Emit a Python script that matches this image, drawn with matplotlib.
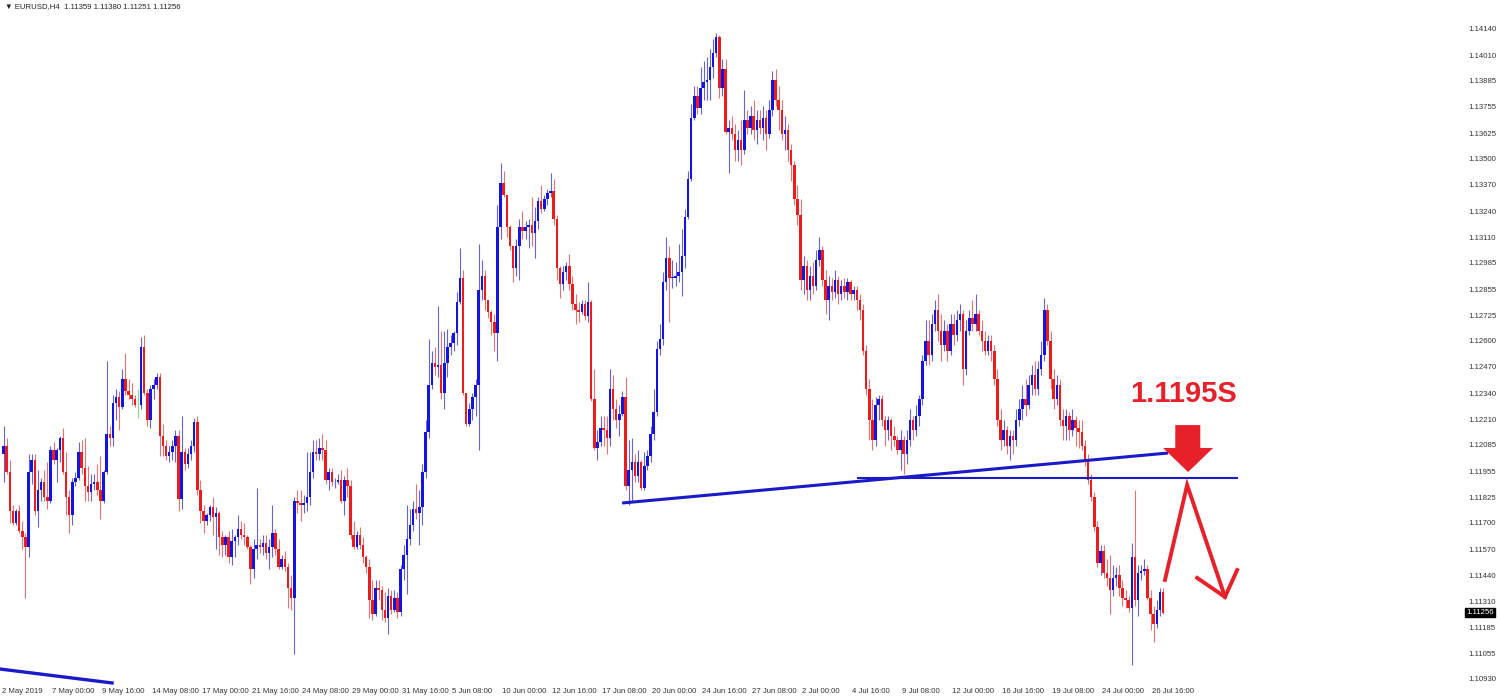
#!usr/bin/env python3

import matplotlib as mpl
mpl.use("Agg")
import matplotlib.pyplot as plt
import matplotlib.transforms as mtransforms
from matplotlib.patches import Polygon

# EURUSD H4 candles (open of each bar = previous close)
first_open = 1.1204

closes = [
    1.1208, 1.1195, 1.1176, 1.1170, 1.1176, 1.1166, 1.1163, 1.1158, 1.1195, 1.1201,
    1.1176, 1.1186, 1.1190, 1.1183, 1.1181, 1.1206, 1.1201, 1.1206, 1.1212, 1.1195,
    1.1183, 1.1174, 1.1190, 1.1192, 1.1205, 1.1197, 1.1188, 1.1185, 1.1189, 1.1190,
    1.1186, 1.1181, 1.1195, 1.1214, 1.1212, 1.1229, 1.1232, 1.1227, 1.1241, 1.1235,
    1.1233, 1.1231, 1.1228, 1.1228, 1.1257, 1.1234, 1.1221, 1.1236, 1.1238, 1.1242,
    1.1213, 1.1208, 1.1203, 1.1205, 1.1208, 1.1213, 1.1182, 1.1205, 1.1199, 1.1204,
    1.1208, 1.1220, 1.1186, 1.1176, 1.1171, 1.1174, 1.1178, 1.1173, 1.1175, 1.1163,
    1.1159, 1.1163, 1.1153, 1.1161, 1.1163, 1.1167, 1.1164, 1.1163, 1.1158, 1.1147,
    1.1157, 1.1159, 1.1158, 1.1160, 1.1155, 1.1158, 1.1165, 1.1157, 1.1148, 1.1152,
    1.1148, 1.1138, 1.1133, 1.1181, 1.1180, 1.1179, 1.1180, 1.1183, 1.1195, 1.1205,
    1.1204, 1.1207, 1.1206, 1.1191, 1.1195, 1.1190, 1.1190, 1.1191, 1.1181, 1.1191,
    1.1188, 1.1164, 1.1158, 1.1164, 1.1159, 1.1153, 1.1148, 1.1132, 1.1125, 1.1138,
    1.1137, 1.1127, 1.1123, 1.1134, 1.1127, 1.1133, 1.1126, 1.1147, 1.1154, 1.1162,
    1.1169, 1.1177, 1.1175, 1.1178, 1.1195, 1.1215, 1.1238, 1.1249, 1.1247, 1.1248,
    1.1234, 1.1249, 1.1257, 1.1259, 1.1264, 1.1279, 1.1291, 1.1234, 1.1219, 1.1226,
    1.1232, 1.1238, 1.1285, 1.1292, 1.1280, 1.1274, 1.1269, 1.1264, 1.1316, 1.1338,
    1.1332, 1.1316, 1.1307, 1.1296, 1.1307, 1.1316, 1.1314, 1.1316, 1.1317, 1.1313,
    1.1319, 1.1329, 1.1325, 1.1330, 1.1333, 1.1334, 1.1320, 1.1296, 1.1288, 1.1294,
    1.1297, 1.1288, 1.1278, 1.1275, 1.1274, 1.1278, 1.1272, 1.1279, 1.1231, 1.1207,
    1.1210, 1.1217, 1.1216, 1.1212, 1.1236, 1.1226, 1.1221, 1.1224, 1.1232, 1.1188,
    1.1196, 1.1200, 1.1193, 1.1200, 1.1187, 1.1198, 1.1203, 1.1214, 1.1225, 1.1256,
    1.1261, 1.1289, 1.1301, 1.1291, 1.1291, 1.1292, 1.1294, 1.1302, 1.1321, 1.1340,
    1.1370, 1.1381, 1.1375, 1.1385, 1.1388, 1.1389, 1.1395, 1.1402, 1.1410, 1.1385,
    1.1394, 1.1363, 1.1365, 1.1362, 1.1354, 1.1359, 1.1354, 1.1369, 1.1365, 1.1371,
    1.1364, 1.1369, 1.1365, 1.1370, 1.1362, 1.1374, 1.1389, 1.1379, 1.1374, 1.1362,
    1.1364, 1.1354, 1.1347, 1.1330, 1.1322, 1.1290, 1.1297, 1.1285, 1.1292, 1.1287,
    1.1300, 1.1305, 1.1290, 1.1280, 1.1287, 1.1284, 1.1290, 1.1283, 1.1287, 1.1284,
    1.1289, 1.1283, 1.1285, 1.1280, 1.1275, 1.1255, 1.1236, 1.1221, 1.1211, 1.1228,
    1.1231, 1.1221, 1.1216, 1.1221, 1.1213, 1.1211, 1.1206, 1.1211, 1.1204, 1.1211,
    1.1221, 1.1216, 1.1223, 1.1231, 1.1250, 1.1260, 1.1253, 1.1268, 1.1275, 1.1265,
    1.1258, 1.1265, 1.1255, 1.1268, 1.1263, 1.1270, 1.1273, 1.1246, 1.1265, 1.1271,
    1.1268, 1.1273, 1.1265, 1.1260, 1.1255, 1.1260, 1.1255, 1.1241, 1.1221, 1.1211,
    1.1216, 1.1208, 1.1213, 1.1211, 1.1221, 1.1226, 1.1231, 1.1228, 1.1238, 1.1243,
    1.1236, 1.1246, 1.1253, 1.1275, 1.1260, 1.1241, 1.1231, 1.1238, 1.1221, 1.1218,
    1.1223, 1.1216, 1.1221, 1.1217, 1.1215, 1.1208, 1.1200, 1.1191, 1.1183, 1.1168,
    1.1150, 1.1156, 1.1145, 1.1143, 1.1137, 1.1143, 1.1144, 1.1138, 1.1133, 1.1132,
    1.1128, 1.1153, 1.1132, 1.1145, 1.1146, 1.1147, 1.1133, 1.1125, 1.1120, 1.1127,
    1.11359, 1.11256,
]

highs = [
    1.1218, 1.1212, 1.1201, 1.1179, 1.1177, 1.1179, 1.1171, 1.1165, 1.1204, 1.1204,
    1.1204, 1.1196, 1.1192, 1.1196, 1.1200, 1.1208, 1.1210, 1.1207, 1.1213, 1.1217,
    1.1205, 1.1186, 1.1192, 1.1195, 1.1210, 1.1211, 1.1212, 1.1198, 1.1194, 1.1194,
    1.1199, 1.1203, 1.1196, 1.1250, 1.1218, 1.1233, 1.1236, 1.1235, 1.1246, 1.1254,
    1.1241, 1.1239, 1.1233, 1.1236, 1.1262, 1.1263, 1.1236, 1.1238, 1.1241, 1.1244,
    1.1244, 1.1219, 1.1211, 1.1208, 1.1211, 1.1216, 1.1216, 1.1223, 1.1207, 1.1207,
    1.1211, 1.1222, 1.1223, 1.1191, 1.1179, 1.1175, 1.1179, 1.1183, 1.1178, 1.1176,
    1.1166, 1.1164, 1.1166, 1.1167, 1.1164, 1.1174, 1.1171, 1.1170, 1.1164, 1.1159,
    1.1162, 1.1187, 1.1162, 1.1164, 1.1164, 1.1162, 1.1179, 1.1167, 1.1162, 1.1154,
    1.1156, 1.1150, 1.1144, 1.1183, 1.1186, 1.1186, 1.1184, 1.1205, 1.1205, 1.1211,
    1.1211, 1.1212, 1.1214, 1.1211, 1.1197, 1.1197, 1.1192, 1.1194, 1.1196, 1.1193,
    1.1197, 1.1191, 1.1171, 1.1166, 1.1168, 1.1163, 1.1154, 1.1152, 1.1142, 1.1142,
    1.1142, 1.1139, 1.1136, 1.1138, 1.1137, 1.1137, 1.1136, 1.1149, 1.1159, 1.1179,
    1.1177, 1.1181, 1.1189, 1.1186, 1.1199, 1.1221, 1.1261, 1.1255, 1.1257, 1.1277,
    1.1265, 1.1265, 1.1266, 1.1263, 1.1265, 1.1284, 1.1306, 1.1295, 1.1234, 1.1229,
    1.1234, 1.1241, 1.1308, 1.1300, 1.1295, 1.1279, 1.1275, 1.1273, 1.1327, 1.1348,
    1.1344, 1.1331, 1.1317, 1.1307, 1.1310, 1.1320, 1.1324, 1.1319, 1.1320, 1.1331,
    1.1326, 1.1331, 1.1337, 1.1332, 1.1335, 1.1343, 1.1340, 1.1322, 1.1297, 1.1297,
    1.1299, 1.1303, 1.1292, 1.1283, 1.1279, 1.1280, 1.1280, 1.1289, 1.1280, 1.1246,
    1.1216, 1.1223, 1.1223, 1.1223, 1.1246, 1.1243, 1.1231, 1.1228, 1.1235, 1.1242,
    1.1211, 1.1212, 1.1204, 1.1206, 1.1201, 1.1205, 1.1206, 1.1218, 1.1236, 1.1260,
    1.1268, 1.1294, 1.1311, 1.1307, 1.1300, 1.1299, 1.1308, 1.1315, 1.1325, 1.1344,
    1.1377, 1.1386, 1.1386, 1.1395, 1.1398, 1.1400, 1.1404, 1.1409, 1.1412, 1.1411,
    1.1399, 1.1399, 1.1369, 1.1371, 1.1367, 1.1364, 1.1369, 1.1384, 1.1374, 1.1376,
    1.1379, 1.1374, 1.1374, 1.1376, 1.1374, 1.1379, 1.1393, 1.1394, 1.1386, 1.1379,
    1.1371, 1.1367, 1.1357, 1.1349, 1.1337, 1.1330, 1.1302, 1.1300, 1.1297, 1.1299,
    1.1305, 1.1311, 1.1307, 1.1295, 1.1292, 1.1291, 1.1295, 1.1292, 1.1290, 1.1291,
    1.1291, 1.1290, 1.1287, 1.1287, 1.1283, 1.1278, 1.1258, 1.1241, 1.1231, 1.1232,
    1.1233, 1.1233, 1.1223, 1.1223, 1.1222, 1.1218, 1.1213, 1.1216, 1.1213, 1.1216,
    1.1226, 1.1223, 1.1228, 1.1233, 1.1253, 1.1270, 1.1270, 1.1273, 1.1280, 1.1283,
    1.1273, 1.1270, 1.1268, 1.1273, 1.1273, 1.1275, 1.1278, 1.1275, 1.1270, 1.1275,
    1.1280, 1.1283, 1.1275, 1.1270, 1.1265, 1.1263, 1.1263, 1.1258, 1.1246, 1.1226,
    1.1221, 1.1218, 1.1216, 1.1216, 1.1226, 1.1231, 1.1238, 1.1241, 1.1243, 1.1248,
    1.1250, 1.1250, 1.1260, 1.1281, 1.1278, 1.1265, 1.1246, 1.1243, 1.1241, 1.1226,
    1.1226, 1.1225, 1.1226, 1.1223, 1.1221, 1.1221, 1.1211, 1.1204, 1.1194, 1.1185,
    1.1171, 1.1159, 1.1159, 1.1152, 1.1154, 1.1149, 1.1148, 1.1149, 1.1142, 1.1137,
    1.1134, 1.1160, 1.1186, 1.1149, 1.1149, 1.1152, 1.1149, 1.1137, 1.1129, 1.1132,
    1.1138, 1.11380,
]

lows = [
    1.1190, 1.1194, 1.1170, 1.1169, 1.1169, 1.1165, 1.1157, 1.1133, 1.1153, 1.1189,
    1.1174, 1.1168, 1.1181, 1.1181, 1.1177, 1.1180, 1.1199, 1.1190, 1.1200, 1.1194,
    1.1174, 1.1165, 1.1169, 1.1188, 1.1191, 1.1194, 1.1181, 1.1181, 1.1181, 1.1186,
    1.1184, 1.1172, 1.1180, 1.1194, 1.1208, 1.1208, 1.1221, 1.1216, 1.1226, 1.1233,
    1.1231, 1.1228, 1.1227, 1.1222, 1.1226, 1.1233, 1.1218, 1.1217, 1.1231, 1.1236,
    1.1203, 1.1203, 1.1201, 1.1200, 1.1201, 1.1200, 1.1176, 1.1177, 1.1196, 1.1197,
    1.1201, 1.1205, 1.1184, 1.1170, 1.1165, 1.1169, 1.1171, 1.1164, 1.1157, 1.1154,
    1.1153, 1.1154, 1.1150, 1.1149, 1.1153, 1.1159, 1.1162, 1.1159, 1.1157, 1.1140,
    1.1143, 1.1152, 1.1155, 1.1154, 1.1152, 1.1147, 1.1153, 1.1154, 1.1147, 1.1147,
    1.1146, 1.1128, 1.1127, 1.1105, 1.1175, 1.1171, 1.1175, 1.1176, 1.1179, 1.1192,
    1.1201, 1.1201, 1.1201, 1.1189, 1.1186, 1.1188, 1.1187, 1.1189, 1.1180, 1.1174,
    1.1183, 1.1162, 1.1157, 1.1157, 1.1157, 1.1150, 1.1145, 1.1123, 1.1122, 1.1124,
    1.1132, 1.1122, 1.1121, 1.1115, 1.1125, 1.1126, 1.1123, 1.1124, 1.1142, 1.1135,
    1.1159, 1.1166, 1.1172, 1.1159, 1.1169, 1.1192, 1.1212, 1.1236, 1.1243, 1.1242,
    1.1231, 1.1226, 1.1242, 1.1253, 1.1255, 1.1258, 1.1278, 1.1233, 1.1218, 1.1218,
    1.1221, 1.1223, 1.1206, 1.1280, 1.1275, 1.1271, 1.1263, 1.1255, 1.1250, 1.1310,
    1.1331, 1.1311, 1.1305, 1.1289, 1.1292, 1.1290, 1.1310, 1.1310, 1.1306, 1.1307,
    1.1301, 1.1315, 1.1323, 1.1324, 1.1327, 1.1331, 1.1317, 1.1290, 1.1281, 1.1285,
    1.1290, 1.1285, 1.1275, 1.1268, 1.1269, 1.1273, 1.1270, 1.1269, 1.1230, 1.1206,
    1.1201, 1.1208, 1.1208, 1.1204, 1.1208, 1.1221, 1.1217, 1.1213, 1.1223, 1.1186,
    1.1179, 1.1181, 1.1190, 1.1190, 1.1186, 1.1186, 1.1196, 1.1200, 1.1211, 1.1223,
    1.1253, 1.1258, 1.1285, 1.1269, 1.1286, 1.1287, 1.1289, 1.1282, 1.1296, 1.1320,
    1.1339, 1.1369, 1.1372, 1.1372, 1.1379, 1.1379, 1.1379, 1.1390, 1.1400, 1.1380,
    1.1381, 1.1362, 1.1343, 1.1359, 1.1349, 1.1349, 1.1347, 1.1352, 1.1362, 1.1362,
    1.1359, 1.1357, 1.1362, 1.1359, 1.1354, 1.1360, 1.1371, 1.1376, 1.1364, 1.1359,
    1.1354, 1.1349, 1.1339, 1.1327, 1.1317, 1.1285, 1.1283, 1.1280, 1.1280, 1.1283,
    1.1285, 1.1297, 1.1287, 1.1273, 1.1270, 1.1280, 1.1281, 1.1278, 1.1280, 1.1281,
    1.1280, 1.1280, 1.1280, 1.1275, 1.1270, 1.1253, 1.1233, 1.1211, 1.1206, 1.1208,
    1.1221, 1.1218, 1.1208, 1.1211, 1.1206, 1.1208, 1.1204, 1.1196, 1.1194, 1.1199,
    1.1208, 1.1211, 1.1213, 1.1218, 1.1228, 1.1248, 1.1248, 1.1250, 1.1265, 1.1260,
    1.1250, 1.1255, 1.1250, 1.1253, 1.1258, 1.1260, 1.1265, 1.1238, 1.1243, 1.1263,
    1.1265, 1.1265, 1.1263, 1.1255, 1.1253, 1.1253, 1.1250, 1.1238, 1.1218, 1.1206,
    1.1208, 1.1204, 1.1201, 1.1204, 1.1208, 1.1218, 1.1221, 1.1223, 1.1226, 1.1233,
    1.1233, 1.1233, 1.1243, 1.1250, 1.1258, 1.1236, 1.1226, 1.1228, 1.1218, 1.1211,
    1.1211, 1.1211, 1.1213, 1.1208, 1.1207, 1.1206, 1.1198, 1.1189, 1.1181, 1.1166,
    1.1148, 1.1144, 1.1143, 1.1139, 1.1125, 1.1134, 1.1139, 1.1134, 1.1129, 1.1128,
    1.1126, 1.1100, 1.1129, 1.1124, 1.1142, 1.1144, 1.1132, 1.1117, 1.1111, 1.1118,
    1.1124, 1.11251,
]

doji_green = [43]   # the single lime-coloured bar in May

time_labels = ["2 May 2019", "7 May 00:00", "9 May 16:00", "14 May 08:00", "17 May 00:00",
               "21 May 16:00", "24 May 08:00", "29 May 00:00", "31 May 16:00", "5 Jun 08:00",
               "10 Jun 00:00", "12 Jun 16:00", "17 Jun 08:00", "20 Jun 00:00", "24 Jun 16:00",
               "27 Jun 08:00", "2 Jul 00:00", "4 Jul 16:00", "9 Jul 08:00", "12 Jul 00:00",
               "16 Jul 16:00", "19 Jul 08:00", "24 Jul 00:00", "26 Jul 16:00"]
bars_per_label = 16

price_ticks = [1.14140, 1.14010, 1.13885, 1.13755, 1.13625, 1.13500, 1.13370, 1.13240,
               1.13110, 1.12985, 1.12855, 1.12725, 1.12600, 1.12470, 1.12340, 1.12210,
               1.12085, 1.11955, 1.11825, 1.11700, 1.11570, 1.11440, 1.11310, 1.11185,
               1.11055, 1.10930]

# hand drawn objects on the chart (bar index, price)
trend_line = ([197.9, 372.6], [1.11798, 1.12045])
level_line = ([273.4, 394.7], [1.11923, 1.11923])
old_line = ([-1.2, 34.7], [1.10978, 1.10909])
level_text = "1.1195S"

BLUE = "#1414e0"
RED = "#ec1c1c"
BLUE_WICK = "#6464d8"
RED_WICK = "#e87272"
ANNOT_RED = "#e62129"
LINE_BLUE = "#1a1ac8"
FONT = ["Liberation Sans", "DejaVu Sans"]


def main():
    n = len(closes)
    opens = [first_open] + closes[:-1]
    xs = list(range(n))

    fig = plt.figure(figsize=(15, 7), dpi=100)
    ax = fig.add_axes([0, 14 / 700, 1455 / 1500, 686 / 700])

    body_c, wick_c, bottoms, heights = [], [], [], []
    for i in xs:
        o, c = opens[i], closes[i]
        if i in doji_green:
            body_c.append("#80e080")
            wick_c.append("#80e080")
        elif c >= o:
            body_c.append(BLUE)
            wick_c.append(BLUE_WICK)
        else:
            body_c.append(RED)
            wick_c.append(RED_WICK)
        bottoms.append(min(o, c))
        heights.append(max(abs(c - o), 0.00004))

    hi = [max(highs[i], opens[i], closes[i]) for i in xs]
    lo = [min(lows[i], opens[i], closes[i]) for i in xs]
    ax.vlines(xs, lo, hi, colors=wick_c, linewidth=0.8, zorder=2)
    ax.bar(xs, heights, bottom=bottoms, width=0.8, color=body_c, linewidth=0, zorder=3)

    # drawn lines
    ax.plot(*trend_line, color=LINE_BLUE, linewidth=2.2, zorder=4, solid_capstyle="butt")
    ax.plot(*level_line, color=LINE_BLUE, linewidth=1.5, zorder=4)
    ax.plot(*old_line, color=LINE_BLUE, linewidth=2.4, zorder=4, clip_on=False)

    # red annotation: label, block arrow, zigzag
    ax.text(377.4, 1.12337, level_text, color=ANNOT_RED, fontsize=21, fontweight="bold",
            family=FONT, ha="center", va="center")
    arrow = Polygon([(374.9, 1.12183), (382.9, 1.12183), (382.9, 1.12070), (387.0, 1.12070),
                     (379.0, 1.11951), (371.0, 1.12070), (374.9, 1.12070)],
                    closed=True, color=ANNOT_RED, linewidth=0, zorder=5)
    ax.add_patch(arrow)
    ax.plot([371.6, 378.7, 390.8], [1.11418, 1.11887, 1.11334], color=ANNOT_RED,
            linewidth=2.8, zorder=5, solid_joinstyle="miter")
    ax.plot([381.9, 390.8, 394.7], [1.11428, 1.11334, 1.11467], color=ANNOT_RED,
            linewidth=2.8, zorder=5, solid_joinstyle="miter")

    ax.set_xlim(-1.15, 464.4)
    ax.set_ylim(1.10894, 1.14283)
    for s in ax.spines.values():
        s.set_visible(False)

    ax.yaxis.tick_right()
    ax.set_yticks(price_ticks)
    ax.set_yticklabels(["%.5f" % p for p in price_ticks])
    ax.tick_params(axis="y", length=0, pad=9.5, labelsize=5.6, labelcolor="#333333")

    ax.set_xticks([j * bars_per_label - 0.5 for j in range(len(time_labels))])
    ax.set_xticklabels(time_labels)
    ax.tick_params(axis="x", length=0, pad=1.5, labelsize=5.6, labelcolor="#333333")
    for t in ax.get_xticklabels() + ax.get_yticklabels():
        t.set_family(FONT)
    for t in ax.get_xticklabels():
        t.set_horizontalalignment("left")

    # current price tag
    tr = mtransforms.blended_transform_factory(ax.transAxes, ax.transData)
    ax.text(1.0 + 11 / 1455, closes[-1], "%.5f" % closes[-1], transform=tr, color="white",
            fontsize=5.6, family=FONT, va="center", ha="left", clip_on=False,
            bbox=dict(boxstyle="square,pad=0.15", facecolor="black", edgecolor="black"))

    header = "\u25bc EURUSD,H4  %.5f %.5f %.5f %.5f" % (opens[-1], highs[-1], lows[-1], closes[-1])
    fig.text(5 / 1500, 1 - 7 / 700, header, fontsize=5.6, family=FONT, color="#222222",
             va="center", ha="left")

    plt.savefig("out.png", dpi=100, facecolor="white")


if __name__ == "__main__":
    main()
